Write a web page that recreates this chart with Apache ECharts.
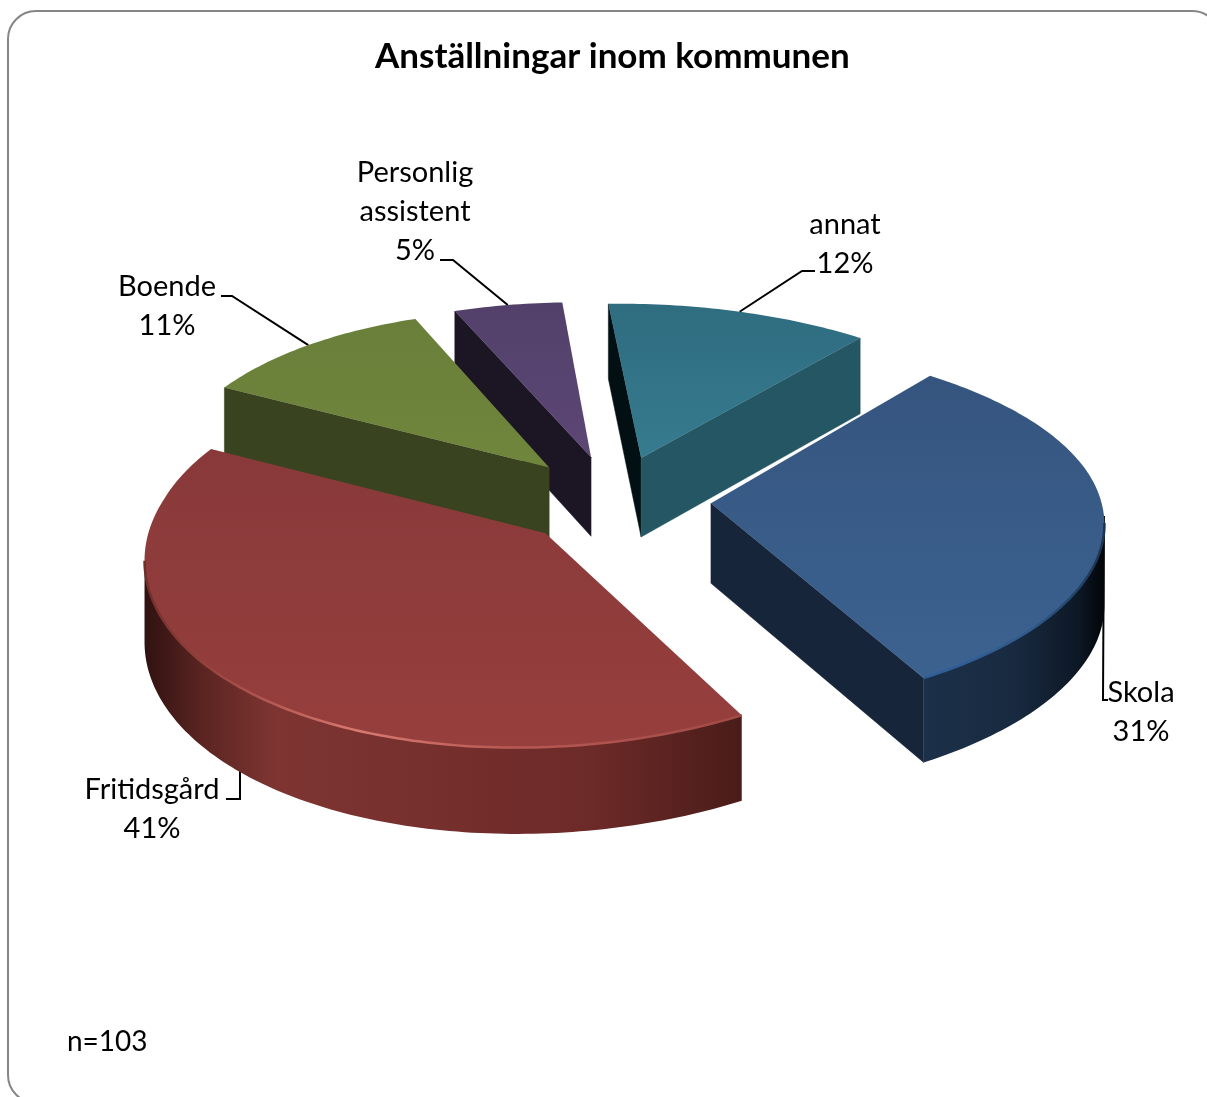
<!DOCTYPE html>
<html>
<head>
<meta charset="utf-8">
<title>Anställningar inom kommunen</title>
<script src="https://cdn.jsdelivr.net/npm/echarts@6/dist/echarts.min.js"></script>
<style>
    html, body { margin: 0; padding: 0; background: #fff; overflow: hidden; }
    #chart { width: 1207px; height: 1097px; }
</style>
</head>
<body>
<div id="chart"></div>
<script>
// data, clockwise from the top of the pie
const categories = ['annat', 'Skola', 'Fritidsgård', 'Boende', 'Personlig\nassistent'];
const percent = [12, 31, 41, 11, 5];
const titleText = 'Anställningar inom kommunen';
const noteText = 'n=103';

// tilted disc, the far half (v < 0) and near half (v > 0) are foreshortened a bit differently
const view = {
    cx: 614, cy: 500, r: 390, tilt: 0.465, perspY: 0.115,
    perspFar: 0.09, perspNear: 0.1, shearNear: -0.035, rollFar: 0.015,
    start: -5, explode: 97, depth: 80
};

// styles, same order as categories
const topStops = [
    ['#2f6c80', '#367b8f'], ['#35557f', '#3c6290'], ['#89393a', '#963f3d'], ['#6a7f3a', '#6f863c'], ['#52406a', '#5d4775']
];
const startWall = ['#031013', '#16253a', '#16253a', '#3a431f', '#1b1524'];
const endWall = ['#255663', '#16253a', '#4a1c19', '#3a431f', '#1b1524'];
const arcStops = [
    null,
    [[0, '#1b3049'], [0.5, '#182a40'], [0.85, '#0d1826'], [1, '#020508']],
    [[0, '#301210'], [0.1, '#5c2522'], [0.22, '#7e3532'], [0.5, '#752f2d'], [0.75, '#6c2a28'], [1, '#4a1c19']],
    null,
    null
];
const rimStops = [
    null,
    [[0, '#2f5f9a'], [0.6, '#2f5a8c'], [1, '#1b3350']],
    [[0, '#702e2b'], [0.15, '#a54c47'], [0.36, '#d97a72'], [0.6, '#b85a54'], [1, '#a04a46']],
    null,
    null
];
const labelAt = [[845, 244], [1141, 712], [152, 809], [167, 306], [415, 212]];
const leaderBend = [
    [[802, 271], [815, 271]],
    [[1103, 700], [1108, 700]],
    [[240, 740], [240, 799], [226, 799]],
    [[232, 296], [221, 296]],
    [[453, 260], [440, 260]]
];
const labelFont = 'Lato, sans-serif';

// angles in degrees for each slice
let angles = [];
let running = view.start;
percent.forEach(function (p) {
    angles.push([running, running + p * 3.6]);
    running += p * 3.6;
});

function project(u, v, z) {
    let sx = 1 / (1 - (v < 0 ? view.perspFar : view.perspNear) * v);
    let sy = 1 / (1 - view.perspY * v);
    let shear = v > 0 ? view.shearNear * v * v : 0;
    let roll = v < 0 ? -view.rollFar * u * v : 0;
    return [
        view.cx + view.r * (u + shear) * sx,
        view.cy + view.r * (view.tilt * v * sy + roll) + view.depth * z * (1 + (sy - 1) / 2)
    ];
}

function onDisc(i, deg, radius, z) {
    let mid = (angles[i][0] + angles[i][1]) / 2 * Math.PI / 180;
    let a = deg * Math.PI / 180;
    let e = view.explode / view.r;
    return project(e * Math.sin(mid) + radius * Math.sin(a), -e * Math.cos(mid) - radius * Math.cos(a), z);
}

function arcPoints(i, z) {
    let pts = [];
    for (let d = angles[i][0]; d < angles[i][1]; d += 1) {
        pts.push(onDisc(i, d, 1, z));
    }
    pts.push(onDisc(i, angles[i][1], 1, z));
    return pts;
}

function colorStops(stops) {
    return stops.map(function (s) { return { offset: s[0], color: s[1] }; });
}

function hGradient(pts, stops) {
    let xs = pts.map(function (p) { return p[0]; });
    return new echarts.graphic.LinearGradient(Math.min.apply(null, xs), 0, Math.max.apply(null, xs), 0, colorStops(stops), true);
}

function renderSlice(params, api) {
    let i = api.value(1);
    let children = [];
    let top = arcPoints(i, 0);
    let low = arcPoints(i, 1);
    let apex = onDisc(i, 0, 0, 0);
    let apexLow = onDisc(i, 0, 0, 1);

    function wall(a, b, c, d, fill) {
        children.push({ type: 'polygon', shape: { points: [a, b, c, d] }, style: { fill: fill, stroke: fill, lineWidth: 0.5 } });
    }
    // side walls, only the ones that face the viewer
    if (top[0][0] < apex[0]) wall(apex, top[0], low[0], apexLow, startWall[i]);
    let last = top.length - 1;
    if (apex[0] < top[last][0]) wall(top[last], apex, apexLow, low[last], endWall[i]);

    // outer wall
    if (arcStops[i]) {
        let front = [], frontLow = [];
        for (let n = 0; n < last; n++) {
            if (top[n + 1][0] < top[n][0]) {
                if (!front.length) { front.push(top[n]); frontLow.push(low[n]); }
                front.push(top[n + 1]);
                frontLow.push(low[n + 1]);
            }
        }
        let outline = front.concat(frontLow.slice().reverse());
        children.push({ type: 'polygon', shape: { points: outline }, style: { fill: hGradient(outline, arcStops[i]) } });
    }

    // top face
    let face = [apex].concat(top);
    let ys = face.map(function (p) { return p[1]; });
    children.push({
        type: 'polygon',
        shape: { points: face },
        style: {
            fill: new echarts.graphic.LinearGradient(0, Math.min.apply(null, ys), 0, Math.max.apply(null, ys),
                colorStops([[0, topStops[i][0]], [1, topStops[i][1]]]), true)
        }
    });

    // lit edge along the front of the top face
    if (rimStops[i]) {
        let rim = [];
        for (let n = 0; n < last; n++) {
            if (top[n + 1][0] < top[n][0]) {
                if (!rim.length) rim.push(top[n]);
                rim.push(top[n + 1]);
            }
        }
        children.push({
            type: 'polyline',
            shape: { points: rim },
            style: { fill: null, stroke: hGradient(rim, rimStops[i]), lineWidth: 2.5 }
        });
    }
    return { type: 'group', children: children };
}

function renderLeader(params, api) {
    let i = api.value(1);
    let anchor = onDisc(i, (angles[i][0] + angles[i][1]) / 2, 1, 0);
    return {
        type: 'polyline',
        shape: { points: [anchor].concat(leaderBend[i]) },
        style: { fill: null, stroke: '#000', lineWidth: 2 }
    };
}

function renderLabel(params, api) {
    let i = api.value(1);
    return {
        type: 'text',
        x: labelAt[i][0],
        y: labelAt[i][1],
        style: {
            text: categories[i] + '\n' + api.value(0) + '%',
            font: '29px ' + labelFont,
            lineHeight: 39,
            fill: '#000',
            align: 'center',
            verticalAlign: 'middle'
        }
    };
}

// rows are [value, index], painted from the back of the pie to the front
let rows = percent.map(function (p, i) { return [p, i]; });
let painted = rows.slice().sort(function (a, b) {
    return onDisc(a[1], 0, 0, 0)[1] - onDisc(b[1], 0, 0, 0)[1];
});

let chart = echarts.init(document.getElementById('chart'), null, { renderer: 'canvas' });
chart.setOption({
    animation: false,
    title: {
        text: titleText,
        left: 375,
        top: 39,
        padding: 0,
        textStyle: { fontFamily: labelFont, fontSize: 35, fontWeight: 'bold', color: '#000' }
    },
    graphic: [
        {
            type: 'rect',
            z: -1,
            shape: { x: 8, y: 11, width: 1212, height: 1092, r: 28 },
            style: { fill: '#fff', stroke: '#868686', lineWidth: 2 }
        },
        {
            type: 'text',
            x: 67,
            y: 1042,
            style: { text: noteText, font: '28px ' + labelFont, fill: '#000', verticalAlign: 'middle' }
        }
    ],
    series: [
        { type: 'custom', coordinateSystem: 'none', silent: true, z: 1, renderItem: renderLeader, data: rows },
        { type: 'custom', coordinateSystem: 'none', silent: true, z: 2, renderItem: renderSlice, data: painted },
        { type: 'custom', coordinateSystem: 'none', silent: true, z: 3, renderItem: renderLabel, data: rows }
    ]
});
</script>
</body>
</html>
